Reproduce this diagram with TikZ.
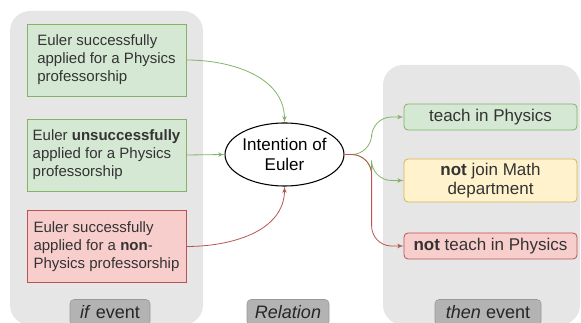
\documentclass[tikz,border=0pt]{standalone}
\usepackage{fontspec}
\setmainfont{Liberation Sans}
\usetikzlibrary{shapes,arrows,positioning}
\definecolor{panelgray}{HTML}{E6E6E6}
\definecolor{tabgray}{HTML}{B3B3B3}
\definecolor{tabline}{HTML}{999999}
\definecolor{greenfill}{HTML}{D5E8D4}
\definecolor{greenline}{HTML}{82B366}
\definecolor{redfill}{HTML}{F8CECC}
\definecolor{redline}{HTML}{B85450}
\definecolor{yellowfill}{HTML}{FFF2CC}
\definecolor{yellowline}{HTML}{D6B656}
\definecolor{textgray}{HTML}{333333}

\begin{document}
\begin{tikzpicture}[x=0.75pt, y=-0.75pt,
block_panel/.style ={fill=panelgray, draw=none, rounded corners=15pt},
block_if/.style ={rectangle, semithick, text=textgray, align=left, minimum width=119.25pt, minimum height=54pt, inner sep=2pt, font=\fontsize{11.25}{13.5}\selectfont},
block_then/.style ={rectangle, semithick, rounded corners=3pt, text=textgray, align=center, minimum width=129.75pt, inner sep=2pt, font=\fontsize{12.75}{14.5}\selectfont},
block_oval/.style ={ellipse, draw=black, thick, fill=white, align=center, minimum width=80.25pt, minimum height=47.25pt, inner sep=0pt, font=\fontsize{12.75}{14.5}\selectfont},
block_tab/.style ={rectangle, draw=tabline, fill=tabgray, rounded corners=3pt, minimum height=19.5pt, inner sep=0pt, text=black!85, font=\fontsize{13.5}{16}\selectfont},
line_green/.style ={draw=greenline, semithick, -latex', shorten >=0pt},
line_red/.style ={draw=redline, semithick, -latex', shorten >=0pt}]
  \useasboundingbox (0,0) rectangle (581,323);
  % background panels
  \path[block_panel] (10,11) rectangle (203,325);
  \path[block_panel] (383,65) rectangle (580,325);
  % if events - left column
  \node [block_if, draw=greenline, fill=greenfill] (if_success) at (106.5,60) {Euler successfully\\applied for a Physics\\professorship};
  \node [block_if, draw=greenline, fill=greenfill] (if_fail) at (106.5,155) {Euler \textbf{unsuccessfully}\\applied for a Physics\\professorship};
  \node [block_if, draw=redline, fill=redfill] (if_nonphys) at (106.5,246.5) {Euler successfully\\applied for a \textbf{non}-\\Physics professorship};
  % relation - middle
  \node [block_oval] (intention) at (284.5,154.5) {Intention of\\Euler};
  % then events - right column
  \node [block_then, draw=greenline, fill=greenfill, minimum height=19.5pt] (then_teach) at (490.5,117) {teach in Physics};
  \node [block_then, draw=yellowline, fill=yellowfill, minimum height=32.25pt] (then_math) at (490.5,180.5) {\textbf{not} join Math\\department};
  \node [block_then, draw=redline, fill=redfill, minimum height=19.5pt] (then_noteach) at (490.5,246) {\textbf{not} teach in Physics};
  % column labels
  \node [block_tab, minimum width=60pt] (tab_if) at (110,312.5) {\textit{if} event};
  \node [block_tab, minimum width=61.5pt] (tab_rel) at (288,312.5) {\textit{Relation}};
  \node [block_tab, minimum width=79.5pt] (tab_then) at (488,312.5) {\textit{then} event};
  % connecting nodes with paths
  \path [line_green] (if_success.east) to[out=0, in=90] (intention.north);
  \path [line_green] (if_fail.east) -- (intention.west);
  \path [line_red] (if_nonphys.east) to[out=0, in=-90] (intention.south);
  \begin{scope}[rounded corners=15pt]
    \path [line_green] (intention.east) -| ([xshift=-24pt]then_teach.west) -- (then_teach.west);
    \path [line_green] (intention.east) -| ([xshift=-24pt]then_math.west) -- (then_math.west);
    \path [line_red] (intention.east) -| ([xshift=-24pt]then_noteach.west) -- (then_noteach.west);
  \end{scope}
\end{tikzpicture}
\end{document}
